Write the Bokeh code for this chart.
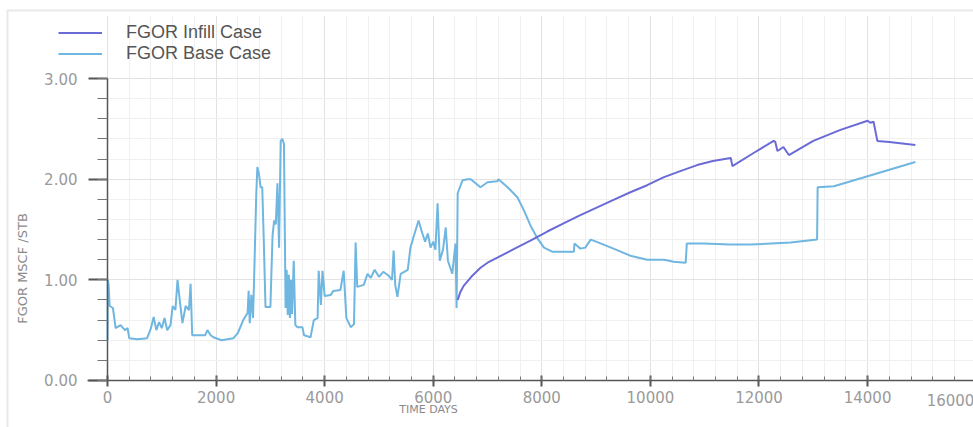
import math
from bokeh.plotting import figure
from bokeh.models import (ColumnDataSource, SingleIntervalTicker, NumeralTickFormatter,
                          Label, Legend, LegendItem, BoxAnnotation)
from bokeh.embed import file_html
from bokeh.resources import INLINE

# ---------------- data ----------------
base_days = [0, 5, 20, 40, 100, 150, 240, 320, 370, 400, 550, 730, 800, 850, 900, 950, 1000,
             1050, 1100, 1160, 1200, 1250, 1290, 1330, 1380, 1440, 1500, 1530, 1560, 1800,
             1840, 1900, 1950, 2100, 2320, 2400, 2500, 2580, 2600, 2620, 2650, 2680, 2700,
             2740, 2760, 2790, 2820, 2850, 2880, 2910, 3000, 3040, 3070, 3100, 3130, 3160,
             3190, 3220, 3250, 3280, 3300, 3320, 3340, 3360, 3380, 3400, 3430, 3460, 3500,
             3590, 3620, 3740, 3800, 3870, 3890, 3930, 3960, 4000, 4110, 4160, 4290, 4350,
             4400, 4480, 4540, 4570, 4600, 4720, 4790, 4850, 4920, 5000, 5080, 5180, 5240,
             5270, 5300, 5340, 5400, 5530, 5580, 5650, 5730, 5800, 5850, 5900, 5950, 6000,
             6040, 6080, 6120, 6180, 6230, 6270, 6350, 6410, 6430, 6450, 6540, 6630, 6690,
             6870, 7000, 7180, 7200, 7370, 7550, 7670, 7790, 7910, 8040, 8190, 8590, 8600,
             8710, 8800, 8900, 9000, 9320, 9630, 9940, 10250, 10430, 10650, 10670, 10980,
             11470, 11840, 12580, 13070, 13080, 13380, 13630, 14880]
base_fgor = [0.40, 1.00, 0.95, 0.74, 0.72, 0.52, 0.55, 0.50, 0.52, 0.42, 0.41, 0.42, 0.52, 0.63,
             0.50, 0.58, 0.52, 0.62, 0.50, 0.55, 0.74, 0.70, 1.00, 0.80, 0.57, 0.74, 0.70, 0.96,
             0.45, 0.45, 0.50, 0.45, 0.43, 0.40, 0.42, 0.47, 0.60, 0.67, 0.89, 0.57, 0.85, 0.62,
             1.00, 1.85, 2.12, 2.05, 1.92, 1.92, 1.36, 0.73, 0.73, 1.44, 1.59, 1.55, 1.96, 1.32,
             2.38, 2.40, 2.35, 0.72, 1.10, 0.65, 1.05, 0.62, 1.00, 0.66, 1.19, 0.55, 0.53, 0.53,
             0.45, 0.43, 0.60, 0.62, 1.09, 0.75, 1.09, 0.84, 0.85, 0.89, 0.90, 1.09, 0.62, 0.53,
             0.56, 1.37, 0.93, 0.95, 1.06, 1.02, 1.10, 1.03, 1.08, 1.04, 1.00, 1.29, 0.95, 0.83,
             1.06, 1.10, 1.32, 1.45, 1.59, 1.46, 1.38, 1.46, 1.32, 1.38, 1.30, 1.76, 1.19, 1.30,
             1.52, 1.19, 1.06, 1.36, 0.72, 1.86, 1.99, 2.00, 2.00, 1.92, 1.97, 1.98, 2.00, 1.92,
             1.82, 1.69, 1.54, 1.42, 1.32, 1.28, 1.28, 1.36, 1.31, 1.32, 1.40, 1.38, 1.31, 1.24,
             1.20, 1.20, 1.18, 1.17, 1.36, 1.36, 1.35, 1.35, 1.37, 1.40, 1.92, 1.93, 1.97, 2.17]

infill_days = [6450, 6500, 6560, 6700, 6870, 7000, 7180, 7500, 7790, 8100, 8400, 8700, 9020,
               9300, 9630, 9940, 10250, 10550, 10860, 11150, 11480, 11510, 11900, 12270,
               12300, 12340, 12450, 12550, 13000, 13500, 14000, 14050, 14110, 14180, 14400, 14880]
infill_fgor = [0.80, 0.88, 0.94, 1.03, 1.12, 1.17, 1.22, 1.31, 1.39, 1.48, 1.56, 1.64, 1.72,
               1.79, 1.87, 1.94, 2.02, 2.08, 2.14, 2.18, 2.21, 2.13, 2.26, 2.38, 2.37, 2.28,
               2.32, 2.24, 2.38, 2.49, 2.58, 2.56, 2.57, 2.38, 2.37, 2.34]

series_names = ["FGOR Infill Case", "FGOR Base Case"]
x_title = "TIME DAYS"
y_title = "FGOR MSCF /STB"
last_x_label = "16000"

INFILL_COLOR = "#6a6bd6"
BASE_COLOR = "#6fb6e0"
TICK_COLOR = "#9a9a9a"
AXIS_COLOR = "#555555"

W, H = 973, 427
# plot frame covers the whole canvas; axes are pinned at x=0 / y=0
p = figure(width=W, height=H, x_range=(-1971, 15951), y_range=(-0.467, 3.775),
           output_backend="svg", toolbar_location=None, min_border=0,
           min_border_left=0, min_border_right=0, min_border_top=0, min_border_bottom=0)
p.outline_line_color = None
p.background_fill_color = "white"
p.border_fill_color = "white"

xt = SingleIntervalTicker(interval=2000, num_minor_ticks=5)
yt = SingleIntervalTicker(interval=1, num_minor_ticks=5)
xt_grid = SingleIntervalTicker(interval=2000, num_minor_ticks=5)
yt_grid = SingleIntervalTicker(interval=1, num_minor_ticks=5)
p.xaxis.ticker = xt
p.yaxis.ticker = yt
p.xgrid.ticker = xt_grid
p.ygrid.ticker = yt_grid
p.xaxis.fixed_location = 0
p.yaxis.fixed_location = 0
p.xaxis.bounds = (-370, 15951)
p.yaxis.bounds = (0, 3)
p.yaxis.formatter = NumeralTickFormatter(format="0.00")

for ax in (p.xaxis[0], p.yaxis[0]):
    ax.axis_line_color = AXIS_COLOR
    ax.axis_line_width = 1.5
    ax.major_tick_line_color = AXIS_COLOR
    ax.minor_tick_line_color = "#777777"
    ax.major_tick_line_width = 2
    ax.major_label_text_color = TICK_COLOR
    ax.major_label_text_font = "DejaVu Sans"
    ax.major_label_text_font_size = "15px"

p.yaxis.major_tick_out = 19
p.yaxis.major_tick_in = 0
p.yaxis.minor_tick_out = 10
p.yaxis.minor_tick_in = 0
p.yaxis.major_label_standoff = 11

p.xaxis.major_tick_out = 6
p.xaxis.major_tick_in = 5
p.xaxis.minor_tick_out = 0
p.xaxis.minor_tick_in = 4
p.xaxis.major_label_standoff = 5

p.xgrid.grid_line_color = "#e2e2e2"
p.ygrid.grid_line_color = "#e2e2e2"
p.xgrid.minor_grid_line_color = "#f0f0f0"
p.ygrid.minor_grid_line_color = "#f0f0f0"

# white masks so the grid only fills the plotting area
for kw in (dict(right=-25), dict(top=0), dict(bottom=3.62)):
    p.add_layout(BoxAnnotation(fill_color="white", fill_alpha=1, line_alpha=0,
                               level="glyph", **kw))

base_src = ColumnDataSource(data=dict(x=base_days, y=base_fgor))
infill_src = ColumnDataSource(data=dict(x=infill_days, y=infill_fgor))
r_base = p.line("x", "y", source=base_src, line_color=BASE_COLOR, line_width=2)
r_inf = p.line("x", "y", source=infill_src, line_color=INFILL_COLOR, line_width=2)

legend = Legend(items=[LegendItem(label=series_names[0], renderers=[r_inf]),
                       LegendItem(label=series_names[1], renderers=[r_base])],
                location=(58, 363), padding=0, spacing=0, margin=0,
                glyph_width=44, glyph_height=19, label_height=19, label_standoff=24,
                label_text_font="Liberation Sans", label_text_font_size="18px",
                label_text_color="#555555", background_fill_alpha=0, border_line_alpha=0)
p.add_layout(legend, "center")

p.add_layout(Label(x=428, y=H - 409, x_units="screen", y_units="screen", text=x_title,
                   text_align="center", text_baseline="middle", text_font="DejaVu Sans",
                   text_font_size="11px", text_color="#8a8a8a"))
p.add_layout(Label(x=950, y=H - 399, x_units="screen", y_units="screen", text=last_x_label,
                   text_align="center", text_baseline="middle", text_font="DejaVu Sans",
                   text_font_size="15px", text_color=TICK_COLOR))
p.add_layout(Label(x=22, y=H - 268, x_units="screen", y_units="screen", text=y_title,
                   angle=math.pi / 2, text_align="center", text_baseline="middle",
                   text_font="DejaVu Sans", text_font_size="13px", text_color="#8a8a8a"))
p.add_layout(BoxAnnotation(left=7, right=W + 20, top=H - 10, bottom=-20,
                           left_units="screen", right_units="screen",
                           top_units="screen", bottom_units="screen",
                           fill_alpha=0, line_color="#b5b5b5", line_width=2))

open("out.html", "w").write(file_html(p, INLINE))
